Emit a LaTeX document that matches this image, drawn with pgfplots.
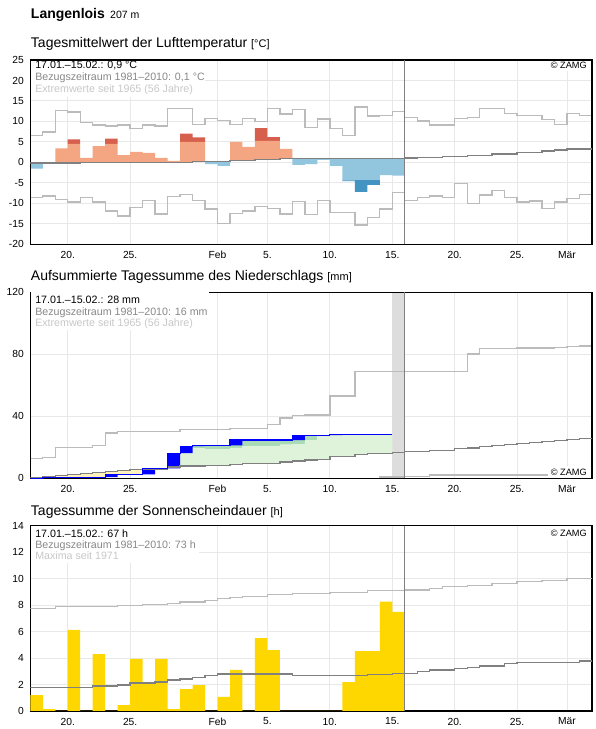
\documentclass[border=0pt]{standalone}
\usepackage{fontspec}
\setmainfont{Liberation Sans}
\usepackage{pgfplots}
\pgfplotsset{compat=1.18}
\usepackage{pgfplotstable}

\definecolor{tlight}{HTML}{F4A582}
\definecolor{tdark}{HTML}{D6604D}
\definecolor{blight}{HTML}{92C5DE}
\definecolor{bdark}{HTML}{4393C3}
\definecolor{ext}{HTML}{BBBBBB}
\definecolor{norm}{HTML}{808080}
\definecolor{gridc}{HTML}{E8E8E8}
\definecolor{glight}{HTML}{DFF2DA}
\definecolor{gdark}{HTML}{A8DBB6}
\definecolor{ylight}{HTML}{FFF2BC}
\definecolor{bandc}{HTML}{DDDDDD}
\definecolor{sun}{HTML}{FFD700}
\definecolor{pblue}{HTML}{0000FF}
\definecolor{txtgray}{HTML}{888888}
\definecolor{txtlight}{HTML}{C8C8C8}

% ---------- temperature bars, stacked upward in an axis shifted by +20 degrees:
% base (hidden, = lower end + 20), bd dark blue, bl light blue, rl light red, rd dark red
\pgfplotstableread{
x base bd bl rl rd
17.5 18.5 0 1.35 0 0
18.5 19.85 0 0 0 0
19.5 19.85 0 0 3.55 0
20.5 19.85 0 0 4.65 1.1
21.5 20.05 0 0 1.05 0
22.5 20.05 0 0 3.95 0
23.5 20.05 0 0 4.45 1.3
24.5 20.05 0 0 1.75 0
25.5 20.05 0 0 2.55 0
26.5 20.05 0 0 2.25 0
27.5 20.05 0 0 1.05 0
28.5 20.05 0 0 0.35 0
29.5 20.05 0 0 4.95 2.0
30.5 20.25 0 0 4.75 1.1
31.5 19.6 0 0.65 0 0
32.5 19.15 0 1.1 0 0
33.5 20.5 0 0 4.5 0
34.5 20.5 0 0 3.3 0
35.5 20.75 0 0 4.5 3.15
36.5 20.75 0 0 4.5 0.95
37.5 21.0 0 0 2.3 0
38.5 19.4 0 1.6 0 0
39.5 19.6 0 1.4 0 0
40.5 20.6 0 0.4 0 0
41.5 19.15 0 1.85 0 0
42.5 15.4 0.2 5.4 0 0
43.5 12.8 2.9 5.3 0 0
44.5 14.5 1.2 5.3 0 0
45.5 16.9 0 4.1 0 0
46.5 16.8 0 4.2 0 0
}\Tbars

\pgfplotstableread{
x n
17 -0.15
21 0.05
30 0.25
33 0.5
35 0.75
37 1.0
47 1.05
48 1.2
50 1.45
52 1.75
54 2.05
56 2.4
58 2.75
59 3.05
60 3.3
62 3.3
}\Tnorm

\pgfplotstableread{
x mx mn
17 6.6 -8.5
18 7.4 -8.2
19 12.6 -9.0
20 12.3 -9.7
21 9.8 -8.5
22 9.1 -9.7
23 8.85 -11.9
24 9.1 -13.1
25 8.35 -11.0
26 9.1 -9.25
27 8.85 -12.6
28 13.2 -8.3
29 13.2 -7.8
30 9.2 -9.25
31 10.8 -11.4
32 10.2 -14.9
33 9.2 -12.4
34 10.8 -11.9
35 10.0 -10.7
36 13.1 -11.2
37 11.8 -12.6
38 13.0 -9.6
39 8.6 -12.8
40 10.6 -9.3
41 8.35 -12.2
42 6.6 -12.2
43 13.5 -15.3
44 11.3 -13.4
45 11.5 -11.4
46 12.5 -7.3
47 11.0 -9.3
48 10.1 -8.5
49 9.1 -8.2
50 9.1 -8.5
51 10.7 -5.1
52 10.9 -10.0
53 13.2 -8.0
54 13.2 -6.8
55 11.9 -8.5
56 11.4 -9.7
57 11.4 -9.4
58 10.4 -11.2
59 9.3 -9.7
60 12.0 -8.75
61 11.4 -7.9
62 11.4 -7.9
}\Textr

% ---------- precipitation areas, stacked:
% s1 hidden base, s2 yellow (sum below normal), s3 light green, s4 dark green
\pgfplotstableread{
x s1 s2 s3 s4
17.5 0 0.6 0 0
18.5 0.7 0.4 0 0
19.5 0.7 1.0 0 0
20.5 0.7 1.7 0 0
21.5 0.7 2.3 0 0
22.5 0.7 2.9 0 0
23.5 2.6 1.7 0 0
24.5 2.6 2.4 0 0
25.5 2.6 3.0 0 0
26.5 5.9 0 0.5 0
27.5 6.1 0 0.3 0
28.5 7.3 0 8.9 0
29.5 8.0 0 12.8 0
30.5 8.0 0 11.4 1.9
31.5 8.2 0 10.7 2.4
32.5 8.4 0 10.5 2.4
33.5 8.8 0 10.9 5.0
34.5 9.7 0 11.1 3.9
35.5 9.7 0 11.1 3.9
36.5 9.7 0 11.1 3.9
37.5 10.5 0 11.2 3.0
38.5 11.2 0 10.7 6.0
39.5 11.7 0 13.0 3.2
40.5 12.3 0 15.6 0
41.5 14.2 0 14.2 0
42.5 14.2 0 14.2 0
43.5 15.3 0 13.1 0
44.5 15.9 0 12.5 0
45.5 16.2 0 12.2 0
}\Pbars

% daily precipitation blocks: previous sum (hidden) + daily amount
\pgfplotstableread{
x cp inc
17.5 0 0
18.5 0 0.7
19.5 0.7 0
20.5 0.7 0
21.5 0.7 0
22.5 0.7 0
23.5 0.7 1.9
24.5 2.6 0
25.5 2.6 0
26.5 2.6 3.8
27.5 6.4 0
28.5 6.4 9.8
29.5 16.2 4.6
30.5 20.8 0.5
31.5 21.3 0
32.5 21.3 0
33.5 21.3 3.4
34.5 24.7 0
35.5 24.7 0
36.5 24.7 0
37.5 24.7 0
38.5 24.7 3.2
39.5 27.9 0
40.5 27.9 0
41.5 27.9 0.5
42.5 28.4 0
43.5 28.4 0
44.5 28.4 0
45.5 28.4 0
}\Pdaily

\pgfplotstableread{
x C
17 0
18 0.7
23 2.6
26 6.4
28 16.2
29 20.8
30 21.3
33 24.7
38 27.9
41 28.4
46 28.4
}\Pcum

\pgfplotstableread{
x mx mn nc
17 12.9 0 0.6
18 13.5 0 1.1
19 20.0 0 1.7
20 20.0 0 2.4
21 20.0 0 3.0
22 21.1 0 3.6
23 29.2 0 4.3
24 30.1 0 5.0
25 30.1 0 5.6
26 30.1 0 5.9
27 30.1 0 6.1
28 30.1 0 7.3
29 31.4 0 8.0
30 31.4 0 8.0
31 31.4 0 8.2
32 31.4 0 8.4
33 32.3 0 8.8
34 32.3 0 9.7
35 32.3 0 9.7
36 34.8 0 9.7
37 39.0 0 10.5
38 40.3 0 11.2
39 40.8 0 11.7
40 40.8 0 12.3
41 53.0 0 14.2
42 53.0 0 14.2
43 69.1 0 15.3
44 69.1 0 15.9
45 69.1 0.9 16.2
46 69.1 0.9 16.5
47 69.1 1.0 17.2
48 69.1 1.0 17.2
49 69.1 2.1 18.0
50 69.1 2.1 18.0
51 69.1 2.1 19.1
52 80.2 2.1 19.5
53 83.6 2.1 20.4
54 83.8 2.1 21.0
55 83.8 2.1 21.9
56 84.0 2.1 22.6
57 84.0 2.1 23.2
58 84.0 2.1 23.9
59 84.5 2.1 24.5
60 85.0 2.1 25.2
61 85.4 2.1 25.8
62 85.4 2.1 25.8
}\Pextr

% ---------- sunshine
\pgfplotstableread{
x s
17 1.2
18 0.15
19 0
20 6.12
21 0
22 4.3
23 0
24 0.45
25 3.93
26 2.16
27 3.93
28 0.15
29 1.66
30 1.96
31 0
32 1.06
33 3.1
34 0
35 5.5
36 4.6
37 0
38 0
39 0
40 0
41 0
42 2.19
43 4.53
44 4.53
45 8.26
46 7.48
47 0
}\Sun

\pgfplotstableread{
x n m
17 1.76 7.75
18 1.76 7.75
19 1.76 7.88
20 1.76 7.88
21 1.80 7.88
22 1.89 7.88
23 1.89 7.88
24 1.96 7.95
25 2.11 7.95
26 2.11 8.05
27 2.20 8.05
28 2.34 8.12
29 2.42 8.23
30 2.52 8.23
31 2.69 8.33
32 2.79 8.48
33 2.79 8.58
34 2.79 8.66
35 2.79 8.66
36 2.79 8.79
37 2.79 8.79
38 2.69 8.89
39 2.69 8.89
40 2.69 8.89
41 2.69 8.94
42 2.69 8.94
43 2.69 8.94
44 2.77 9.09
45 2.77 9.09
46 2.84 9.09
47 2.84 9.14
48 2.97 9.14
49 3.10 9.26
50 3.10 9.39
51 3.22 9.39
52 3.30 9.47
53 3.40 9.47
54 3.40 9.64
55 3.57 9.64
56 3.67 9.77
57 3.67 9.77
58 3.67 9.87
59 3.67 9.87
60 3.67 9.99
61 3.78 9.99
62 3.78 9.99
}\Sext

\pgfplotsset{
  frame/.style={
    scale only axis, width=421.275pt,
    anchor=south west, xmin=17, xmax=62,
  },
  zamg/.style={
    frame,
    xtick={20,25,32,36,41,46,51,56,60},
    xticklabels={20.,25.,Feb,5.,10.,15.,20.,25.,Mär},
    major tick length=0pt,
    tick style={draw=none},
    xmajorgrids, ymajorgrids,
    major grid style={draw=gridc, line width=0.75pt},
    axis line style={line width=1pt, black},
    tick label style={font=\fontsize{7.7}{9}\selectfont},
    xticklabel style={yshift=-1.6pt},
    yticklabel style={xshift=-1.4pt},
    /pgf/number format/assume math mode=true,
  },
  overbars/.style={frame, hide axis, ybar stacked, bar width=1},
  toplayer/.style={frame, xtick=\empty, ytick=\empty,
    axis line style={line width=1pt, black}},
  extline/.style={const plot, draw=ext, line width=1pt},
  normline/.style={const plot, draw=norm, line width=1pt},
  nobar/.style={draw=none, fill=none},
}

\newcommand{\infofont}{\fontsize{8}{9.6}\selectfont}
\newcommand{\titlefont}{\fontsize{10.5}{12}\selectfont}
\newcommand{\unitfont}{\fontsize{8.25}{10}\selectfont}
\newcommand{\zamgfont}{\fontsize{6.9}{8}\selectfont}

\begin{document}
\begin{tikzpicture}
\path[use as bounding box] (0,0) rectangle (447pt,546.75pt);

% ===================== temperature
\begin{axis}[zamg, at={(22.725pt,363.525pt)}, height=138.2pt,
  ymin=-20, ymax=25, ytick={-20,-15,...,25}]
  \addplot[extline] table[x=x,y=mx]{\Textr};
  \addplot[extline] table[x=x,y=mn]{\Textr};
\end{axis}
% bars: same frame, values shifted by +20 so that every stacked part is positive
\begin{axis}[overbars, at={(22.725pt,363.525pt)}, height=138.2pt, ymin=0, ymax=45]
  \addplot[nobar] table[x=x,y=base]{\Tbars};
  \addplot[fill=bdark, draw=none] table[x=x,y=bd]{\Tbars};
  \addplot[fill=blight, draw=none] table[x=x,y=bl]{\Tbars};
  \addplot[fill=tlight, draw=none] table[x=x,y=rl]{\Tbars};
  \addplot[fill=tdark, draw=none] table[x=x,y=rd]{\Tbars};
\end{axis}
\begin{axis}[toplayer, at={(22.725pt,363.525pt)}, height=138.2pt, ymin=-20, ymax=25]
  \addplot[normline] table[x=x,y=n]{\Tnorm};
  \addplot[draw=norm, line width=1pt] coordinates {(47,-20) (47,25)};
\end{axis}

% ===================== precipitation
\begin{axis}[zamg, at={(22.725pt,188.025pt)}, height=139.5pt,
  ymin=0, ymax=120, ytick={0,40,80,120}]
  \addplot[fill=bandc, draw=none] coordinates {(46,0) (47,0) (47,120) (46,120)};
  \addplot[extline] table[x=x,y=mx]{\Pextr};
  \addplot[extline] table[x=x,y=mn]{\Pextr};
\end{axis}
\begin{axis}[overbars, at={(22.725pt,188.025pt)}, height=139.5pt, ymin=0, ymax=120]
  \addplot[nobar] table[x=x,y=s1]{\Pbars};
  \addplot[fill=ylight, draw=none] table[x=x,y=s2]{\Pbars};
  \addplot[fill=glight, draw=none] table[x=x,y=s3]{\Pbars};
  \addplot[fill=gdark, draw=none] table[x=x,y=s4]{\Pbars};
\end{axis}
\begin{axis}[overbars, at={(22.725pt,188.025pt)}, height=139.5pt, ymin=0, ymax=120]
  \addplot[nobar] table[x=x,y=cp]{\Pdaily};
  \addplot[fill=pblue, draw=none] table[x=x,y=inc]{\Pdaily};
\end{axis}
\begin{axis}[toplayer, at={(22.725pt,188.025pt)}, height=139.5pt, ymin=0, ymax=120]
  \addplot[normline] table[x=x,y=nc]{\Pextr};
  \addplot[const plot, draw=pblue, line width=0.8pt] table[x=x,y=C]{\Pcum};
  \addplot[draw=norm, line width=1pt] coordinates {(47,0) (47,120)};
\end{axis}

% ===================== sunshine
\begin{axis}[zamg, at={(22.725pt,13.5pt)}, height=138.98pt,
  ymin=0, ymax=14, ytick={0,2,...,14}]
  \addplot[ybar interval, fill=sun, draw=none] table[x=x,y=s]{\Sun};
  \addplot[extline] table[x=x,y=m]{\Sext};
  \addplot[normline] table[x=x,y=n]{\Sext};
  \addplot[draw=norm, line width=1pt] coordinates {(47,0) (47,14)};
\end{axis}

% ===================== text backgrounds
\fill[white] (31.1*0.75pt,668.3*0.75pt) rectangle (205*0.75pt,632.3*0.75pt);
\fill[white] (548*0.75pt,668.3*0.75pt) rectangle (590.9*0.75pt,658*0.75pt);
\fill[white] (31.1*0.75pt,436.7*0.75pt) rectangle (209*0.75pt,399*0.75pt);
\fill[white] (548*0.75pt,263*0.75pt) rectangle (590.9*0.75pt,251.4*0.75pt);
\fill[white] (31.1*0.75pt,203.3*0.75pt) rectangle (199*0.75pt,165.7*0.75pt);
\fill[white] (548*0.75pt,202.6*0.75pt) rectangle (590.9*0.75pt,189*0.75pt);

% ===================== texts
\node[anchor=base west, inner sep=0] at (30.7*0.75pt,710.7*0.75pt)
  {\fontsize{10.5}{12}\selectfont\bfseries Langenlois\kern4pt\fontsize{7.9}{9}\selectfont\mdseries 207 m};

\node[anchor=base west, inner sep=0] at (30.7*0.75pt,681.3*0.75pt) {\titlefont Tagesmittelwert der Lufttemperatur \unitfont[°C]};
\node[anchor=base west, inner sep=0] at (30.7*0.75pt,448*0.75pt) {\titlefont Aufsummierte Tagessumme des Niederschlags \unitfont[mm]};
\node[anchor=base west, inner sep=0] at (30.7*0.75pt,213*0.75pt) {\titlefont Tagessumme der Sonnenscheindauer \unitfont[h]};

\node[anchor=base west, inner sep=0] at (35*0.75pt,660.7*0.75pt) {\infofont 17.01.–15.02.: 0,9 °C};
\node[anchor=base west, inner sep=0, text=txtgray] at (35*0.75pt,648.5*0.75pt) {\infofont Bezugszeitraum 1981–2010: 0,1 °C};
\node[anchor=base west, inner sep=0, text=txtlight] at (35*0.75pt,636.3*0.75pt) {\infofont Extremwerte seit 1965 (56 Jahre)};

\node[anchor=base west, inner sep=0] at (35*0.75pt,425*0.75pt) {\infofont 17.01.–15.02.: 28 mm};
\node[anchor=base west, inner sep=0, text=txtgray] at (35*0.75pt,413.7*0.75pt) {\infofont Bezugszeitraum 1981–2010: 16 mm};
\node[anchor=base west, inner sep=0, text=txtlight] at (35*0.75pt,402.3*0.75pt) {\infofont Extremwerte seit 1965 (56 Jahre)};

\node[anchor=base west, inner sep=0] at (35*0.75pt,191.3*0.75pt) {\infofont 17.01.–15.02.: 67 h};
\node[anchor=base west, inner sep=0, text=txtgray] at (35*0.75pt,180.3*0.75pt) {\infofont Bezugszeitraum 1981–2010: 73 h};
\node[anchor=base west, inner sep=0, text=txtlight] at (35*0.75pt,169.3*0.75pt) {\infofont Maxima seit 1971};

\node[anchor=base east, inner sep=0] at (587*0.75pt,660.5*0.75pt) {\zamgfont © ZAMG};
\node[anchor=base east, inner sep=0] at (587*0.75pt,253*0.75pt) {\zamgfont © ZAMG};
\node[anchor=base east, inner sep=0] at (587*0.75pt,192*0.75pt) {\zamgfont © ZAMG};
\end{tikzpicture}
\end{document}
